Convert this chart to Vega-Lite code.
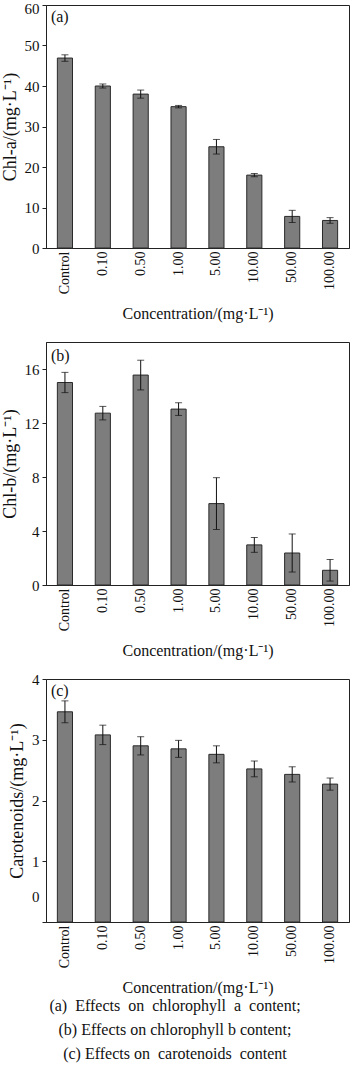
{
  "$schema": "https://vega.github.io/schema/vega-lite/v6.json",
  "padding": {"left": 0, "top": 0, "right": 2, "bottom": 0},
  "background": "white",
  "datasets": {
    "chla": [
      {"conc": "Control", "mean": 46.9, "err": 0.8},
      {"conc": "0.10", "mean": 40.0, "err": 0.5},
      {"conc": "0.50", "mean": 38.0, "err": 1.0},
      {"conc": "1.00", "mean": 34.9, "err": 0.3},
      {"conc": "5.00", "mean": 25.0, "err": 1.8},
      {"conc": "10.00", "mean": 18.0, "err": 0.4},
      {"conc": "50.00", "mean": 7.8, "err": 1.5},
      {"conc": "100.00", "mean": 6.8, "err": 0.7}
    ],
    "chlb": [
      {"conc": "Control", "mean": 15.0, "err": 0.75},
      {"conc": "0.10", "mean": 12.73, "err": 0.5},
      {"conc": "0.50", "mean": 15.55, "err": 1.1},
      {"conc": "1.00", "mean": 13.03, "err": 0.47},
      {"conc": "5.00", "mean": 6.03, "err": 1.92},
      {"conc": "10.00", "mean": 2.97, "err": 0.55},
      {"conc": "50.00", "mean": 2.37, "err": 1.41},
      {"conc": "100.00", "mean": 1.09, "err": 0.8}
    ],
    "car": [
      {"conc": "Control", "mean": 3.46, "err": 0.18},
      {"conc": "0.10", "mean": 3.08, "err": 0.16},
      {"conc": "0.50", "mean": 2.9, "err": 0.15},
      {"conc": "1.00", "mean": 2.85, "err": 0.14},
      {"conc": "5.00", "mean": 2.76, "err": 0.14},
      {"conc": "10.00", "mean": 2.52, "err": 0.13},
      {"conc": "50.00", "mean": 2.43, "err": 0.125},
      {"conc": "100.00", "mean": 2.27, "err": 0.1}
    ]
  },
  "title": {
    "text": ["(a)\u00a0 Effects\u00a0 on\u00a0 chlorophyll\u00a0 a\u00a0 content;", "(b) Effects on chlorophyll b content;", "(c) Effects on\u00a0 carotenoids\u00a0 content"],
    "orient": "bottom",
    "anchor": "middle",
    "font": "Liberation Serif",
    "fontSize": 16,
    "fontWeight": "normal",
    "color": "#111",
    "lineHeight": 24,
    "offset": 2
  },
  "config": {
    "font": "Liberation Serif",
    "view": {"stroke": "#222", "strokeWidth": 1},
    "text": {"font": "Liberation Serif", "fontWeight": "normal"},
    "axis": {
      "labelFont": "Liberation Serif",
      "titleFont": "Liberation Serif",
      "labelColor": "#111",
      "titleColor": "#111",
      "titleFontWeight": "normal",
      "grid": false,
      "domainColor": "#222",
      "tickColor": "#222"
    },
    "axisX": {
      "labelAngle": -90,
      "labelAlign": "right",
      "labelBaseline": "middle",
      "labelFontSize": 14,
      "labelPadding": 3,
      "ticks": false,
      "titleFontSize": 16,
      "titlePadding": 12
    },
    "axisY": {
      "labelFontSize": 15,
      "tickSize": 4,
      "labelPadding": 3,
      "titleFontSize": 18,
      "titlePadding": 5
    }
  },
  "vconcat": [
    {
      "width": 303,
      "height": 243,
      "data": {"name": "chla"},
      "encoding": {
        "x": {"field": "conc", "type": "nominal", "sort": null, "title": "Concentration/(mg·L⁻¹)",
          "scale": {"paddingInner": 0.6, "paddingOuter": 0.3}},
        "y": {"field": "mean", "type": "quantitative", "title": "Chl-a/(mg·L⁻¹)",
          "scale": {"domain": [0, 60], "nice": false},
          "axis": {"values": [0, 10, 20, 30, 40, 50, 60],
            "labelOffset": {"condition": {"test": "datum.value === 60", "value": 3}, "value": 0}}}
      },
      "layer": [
        {"mark": {"type": "bar", "color": "#7d7d7d", "stroke": "#2a2a2a", "strokeWidth": 1}},
        {"mark": {"type": "errorbar", "ticks": true, "size": 7, "thickness": 1, "color": "#111"},
          "encoding": {"yError": {"field": "err"}}},
        {"data": {"values": [{"label": "(a)", "conc": "Control", "pos": 57}]},
          "mark": {"type": "text", "fontSize": 16, "fontWeight": "normal", "font": "Liberation Serif", "align": "left", "dx": -14, "color": "#111"},
          "encoding": {"text": {"field": "label"}, "x": {"field": "conc", "type": "nominal"}, "y": {"field": "pos", "type": "quantitative"}}}
      ]
    },
    {
      "width": 303,
      "height": 243,
      "data": {"name": "chlb"},
      "encoding": {
        "x": {"field": "conc", "type": "nominal", "sort": null, "title": "Concentration/(mg·L⁻¹)",
          "scale": {"paddingInner": 0.6, "paddingOuter": 0.3}},
        "y": {"field": "mean", "type": "quantitative", "title": "Chl-b/(mg·L⁻¹)",
          "scale": {"domain": [0, 18], "nice": false}, "axis": {"values": [0, 4, 8, 12, 16]}}
      },
      "layer": [
        {"mark": {"type": "bar", "color": "#7d7d7d", "stroke": "#2a2a2a", "strokeWidth": 1}},
        {"mark": {"type": "errorbar", "ticks": true, "size": 7, "thickness": 1, "color": "#111"},
          "encoding": {"yError": {"field": "err"}}},
        {"data": {"values": [{"label": "(b)", "conc": "Control", "pos": 17}]},
          "mark": {"type": "text", "fontSize": 16, "fontWeight": "normal", "font": "Liberation Serif", "align": "left", "dx": -14, "color": "#111"},
          "encoding": {"text": {"field": "label"}, "x": {"field": "conc", "type": "nominal"}, "y": {"field": "pos", "type": "quantitative"}}}
      ]
    },
    {
      "width": 303,
      "height": 243,
      "data": {"name": "car"},
      "encoding": {
        "x": {"field": "conc", "type": "nominal", "sort": null, "title": "Concentration/(mg·L⁻¹)",
          "scale": {"paddingInner": 0.6, "paddingOuter": 0.3}},
        "y": {"field": "mean", "type": "quantitative", "title": "Carotenoids/(mg·L⁻¹)",
          "scale": {"domain": [0, 4], "nice": false},
          "axis": {"values": [0, 1, 2, 3, 4],
            "labelOffset": {"condition": {"test": "datum.value === 0", "value": -26}, "value": 0}}}
      },
      "layer": [
        {"mark": {"type": "bar", "color": "#7d7d7d", "stroke": "#2a2a2a", "strokeWidth": 1}},
        {"mark": {"type": "errorbar", "ticks": true, "size": 7, "thickness": 1, "color": "#111"},
          "encoding": {"yError": {"field": "err"}}},
        {"data": {"values": [{"label": "(c)", "conc": "Control", "pos": 3.8}]},
          "mark": {"type": "text", "fontSize": 16, "fontWeight": "normal", "font": "Liberation Serif", "align": "left", "dx": -14, "color": "#111"},
          "encoding": {"text": {"field": "label"}, "x": {"field": "conc", "type": "nominal"}, "y": {"field": "pos", "type": "quantitative"}}}
      ]
    }
  ],
  "spacing": 94,
  "bounds": "flush"
}
